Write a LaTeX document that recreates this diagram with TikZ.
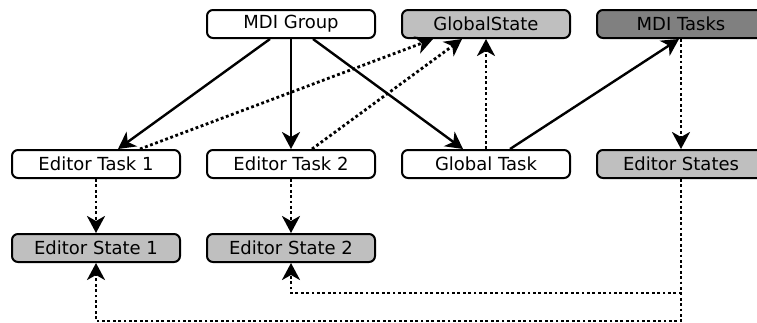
\documentclass[tikz,border=0pt]{standalone}
\usepackage{fontspec}
\setmainfont{DejaVu Sans}
\usetikzlibrary{positioning}
\usetikzlibrary{arrows.meta}
\tikzset{node distance=195pt,
    taskbox/.style={
        draw,
        line width=2pt,
        rounded corners=6pt,
        fill=white,
        minimum width=168pt,
        minimum height=28pt,
        inner sep=0pt,
        font=\fontsize{18}{21}\selectfont},
    statebox/.style={
        taskbox,
        fill=gray!50},
    owns/.style={
        draw,
        ->,>={Stealth[length=17pt,width=18pt,inset=5pt]},
        line width=2.4pt},
    writes/.style={
        owns,
        line width=2.8pt,
        dash pattern=on 2.8pt off 2.6pt}}

\begin{document}
\begin{tikzpicture}[x=1pt,y=-1pt]
    \useasboundingbox (0,0) rectangle (757,322);

    \node[taskbox] (group) at (291,24) {MDI Group};
    \node[statebox,right of=group] (gstate) {GlobalState};
    \node[statebox,fill=gray,right of=gstate] (mditasks) {MDI Tasks};
    \node[taskbox,below of=group,node distance=140pt] (etask2) {Editor Task 2};
    \node[taskbox,left of=etask2] (etask1) {Editor Task 1};
    \node[taskbox,right of=etask2] (gtask) {Global Task};
    \node[statebox,right of=gtask] (estates) {Editor States};
    \node[statebox,below of=etask1,node distance=84pt] (estate1) {Editor State 1};
    \node[statebox,below of=etask2,node distance=84pt] (estate2) {Editor State 2};
    \coordinate[below=58pt of estate1.south] (low1);
    \coordinate[below=30pt of estate2.south] (low2);

    % tasks started by the group
    \draw[owns] ([xshift=-21pt]group.south) -- ([xshift=22pt]etask1.north);
    \draw[owns] (group.south) -- (etask2.north);
    \draw[owns] ([xshift=22pt]group.south) -- ([xshift=-23pt]gtask.north);
    \draw[owns] ([xshift=24pt]gtask.north) -- ([xshift=-2pt]mditasks.south);

    % state updates
    \draw[writes] ([xshift=44pt]etask1.north) -- ([xshift=-53pt]gstate.south);
    \draw[writes] ([xshift=21pt]etask2.north) -- ([xshift=-24pt]gstate.south);
    \draw[writes] (gtask.north) -- (gstate.south);
    \draw[writes] (mditasks.south) -- (estates.north);
    \draw[writes] (etask1.south) -- (estate1.north);
    \draw[writes] (etask2.south) -- (estate2.north);
    \draw[writes] (estates.south) |- (low2) -- (estate2.south);
    \draw[writes] (estates.south) |- (low1) -- (estate1.south);
\end{tikzpicture}
\end{document}
